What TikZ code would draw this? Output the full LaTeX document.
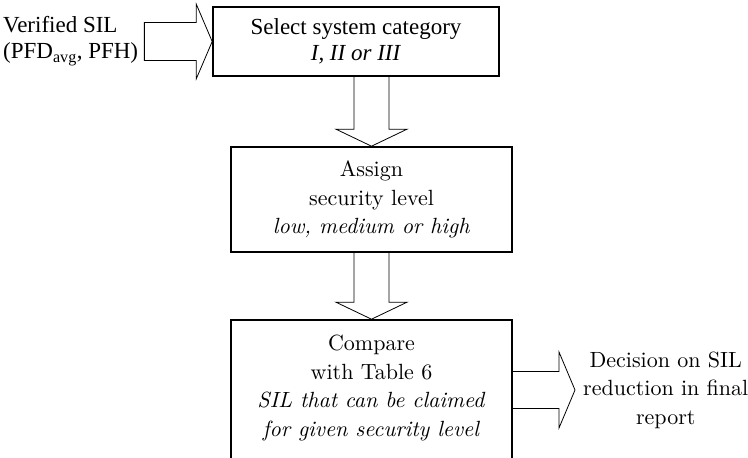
\documentclass[tikz,border=0pt]{standalone}
\usepackage{fontspec}
\newfontfamily\timesfnt{LiberationSerif}[Extension=.ttf, UprightFont=*-Regular, ItalicFont=*-Italic, BoldFont=*-Bold]
\newfontfamily\cmfnt{lmroman10}[Extension=.otf, UprightFont=*-regular, ItalicFont=*-italic, BoldFont=*-bold]
\usetikzlibrary{calc,positioning}

\begin{document}
\begin{tikzpicture}[x=1pt,y=-1pt,
  box/.style={draw, line width=1.6pt, align=center, inner sep=0pt},
  fat/.style={draw, line width=0.8pt, line join=miter},
  tms/.style={font=\timesfnt\fontsize{23}{26}\selectfont},
  lmr/.style={font=\cmfnt\fontsize{22}{28.5}\selectfont}]

\clip (0,0) rectangle (748,458);

% boxes
\node[box, tms, minimum width=286pt, minimum height=69pt] (sel) at (356,41.5) {Select system category\\\textit{I, II or III}};
\node[box, lmr, minimum width=281pt, minimum height=105pt] (asg) at (371.5,199.5) {Assign\\security level\\\textit{low, medium or high}};
\node[box, lmr, minimum width=281pt, minimum height=140pt] (cmp) at (371.5,390) {Compare\\with Table 6\\\textit{SIL that can be claimed}\\\textit{for given security level}\\[-20pt]};

% input and output
\node[tms, align=left, anchor=west, inner sep=0pt] (ver) at (3,41.5) {Verified SIL\\(PFD\textsubscript{avg}, PFH)};
\node[lmr, align=center, inner xsep=8pt, inner ysep=0pt, anchor=west] (dec) at (575,390) {Decision on SIL\\reduction in final\\report};

% hollow arrows
\draw[fat] ($(ver.east)+(6,-19)$) -- ($(sel.west)+(-16,-19)$) -- ++(0,-18.5) -- (sel.west) -- ++(-16,37.5) -- ++(0,-18.5) -- ($(ver.east)+(6,19)$) -- cycle;
\draw[fat] ($(sel.south -| asg.north)+(-17.5,0)$) -- ($(asg.north)+(-17.5,-17)$) -- ++(-18,0) -- (asg.north) -- ++(35.5,-17) -- ++(-18,0) -- ($(sel.south -| asg.north)+(17.5,0)$);
\draw[fat] ($(asg.south)+(-17.5,0)$) -- ($(cmp.north)+(-17.5,-17)$) -- ++(-18,0) -- (cmp.north) -- ++(35.5,-17) -- ++(-18,0) -- ($(asg.south)+(17.5,0)$);
\draw[fat] ($(cmp.east)+(0,-18.5)$) -- ($(dec.west)+(-16,-18.5)$) -- ++(0,-19.5) -- (dec.west) -- ++(-16,38) -- ++(0,-19.5) -- ($(cmp.east)+(0,18.5)$);
\end{tikzpicture}
\end{document}
